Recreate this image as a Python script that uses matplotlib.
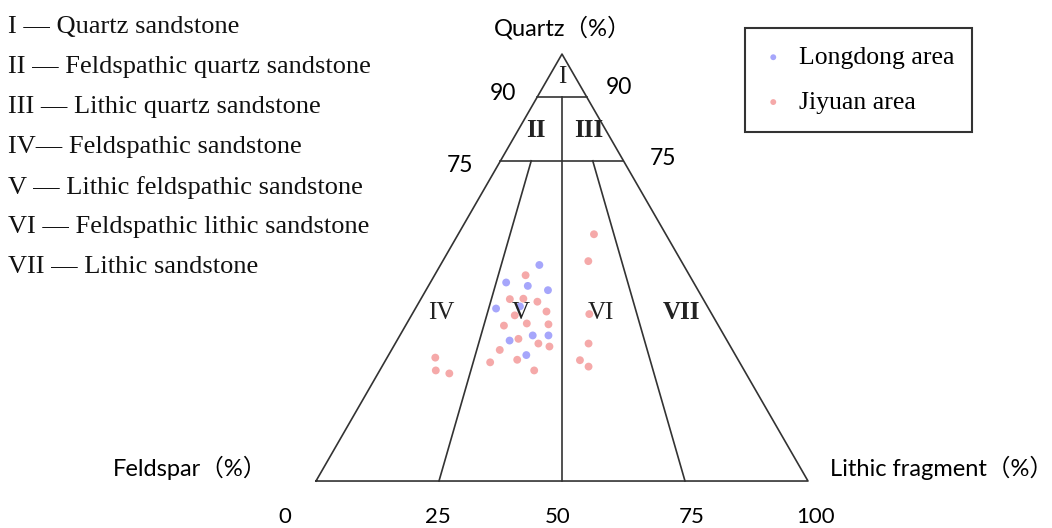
import numpy as np
import matplotlib
matplotlib.use("Agg")
import matplotlib.pyplot as plt

# QFL classification (Quartz / Feldspar / Lithic fragment), values in %
# Longdong area samples
long_q = [50.6, 46.5, 45.7, 44.7, 40.4, 40.9, 34.1, 34.1, 32.9, 29.5]
long_l = [20.1, 15.4, 20.2, 24.8, 16.4, 21.0, 27.0, 30.2, 22.9, 28.0]
# Jiyuan area samples
jiy_q = [57.8, 51.5, 39.1, 32.2, 28.3, 26.8, 48.2, 42.6, 42.7, 42.0, 39.7, 38.8, 36.9,
         36.7, 36.4, 33.3, 32.2, 31.5, 30.7, 27.8, 28.4, 25.9, 28.9, 25.9, 25.2]
jiy_l = [27.6, 29.6, 36.0, 39.3, 39.5, 42.0, 18.5, 18.1, 20.8, 24.0, 27.0, 21.0, 24.4,
         28.9, 20.0, 24.5, 29.1, 31.7, 22.0, 21.5, 26.7, 31.4, 9.8, 11.4, 14.5]

classes = ["I — Quartz sandstone",
           "II — Feldspathic quartz sandstone",
           "III — Lithic quartz sandstone",
           "IV— Feldspathic sandstone",
           "V — Lithic feldspathic sandstone",
           "VI — Feldspathic lithic sandstone",
           "VII — Lithic sandstone"]
base_ticks = ["0", "25", "50", "75", "100"]

S = np.sqrt(3) / 2


def tern(q, l):
    q = np.asarray(q, dtype=float)
    l = np.asarray(l, dtype=float)
    return l + q / 2, q * S


def ray(r, q0, q1):
    # line of constant L/(F+L) ratio r between quartz q0 and q1
    q = np.array([q0, q1], dtype=float)
    return r * (100 - q) + q / 2, q * S


fig = plt.figure(figsize=(10.52, 5.28), dpi=100)
ax = fig.add_axes([0, 0, 1, 1])
ax.set_xlim(-64.23, 149.6)
ax.set_ylim(-9.53, 97.57)
ax.axis("off")

lc = "#333333"
lw = 1.2
# outer triangle
tx, ty = tern([0, 0, 100, 0], [0, 100, 0, 0])
ax.plot(tx, ty, color=lc, lw=lw)
# horizontal quartz lines at 90 and 75
for q in [90, 75]:
    hx, hy = tern([q, q], [0, 100 - q])
    ax.plot(hx, hy, color=lc, lw=lw)
# divisions
for r, qtop in [(0.5, 90), (0.25, 75), (0.75, 75)]:
    rx, ry = ray(r, 0, qtop)
    ax.plot(rx, ry, color=lc, lw=lw)

# data points
lx, ly = tern(long_q, long_l)
jx, jy = tern(jiy_q, jiy_l)
ax.scatter(jx, jy, s=32, color="#f5a9a9", edgecolors="none", label="Jiyuan area", zorder=3)
ax.scatter(lx, ly, s=32, color="#a6a6fb", edgecolors="none", label="Longdong area", zorder=3)

# region labels
serif = "Liberation Serif"
reg = [("I", 50, 82.0, "normal"), ("II", 44.7, 71.2, "bold"), ("III", 55.5, 71.2, "bold"),
       ("IV", 25.4, 34.1, "normal"), ("V", 41.7, 34.1, "normal"), ("VI", 57.9, 34.1, "normal"),
       ("VII", 74.2, 34.1, "bold")]
for t, x, y, w in reg:
    ax.text(x, y, t, family=serif, fontsize=18, fontweight=w, ha="center", va="center",
            color="#222222")

# classification list on the left
for i, t in enumerate(classes):
    ax.text(-62.6, 92.0 - i * 8.11, t, family=serif, fontsize=19, ha="left", va="center",
            color="#111111")

# axis labels and ticks
sans = ["Lato", "Noto Sans CJK SC"]
ax.text(50.2, 91.9, "Quartz（%）", family=sans, fontsize=17, ha="center", va="center")
ax.text(-25.6, 2.6, "Feldspar（%）", family=sans, fontsize=17, ha="center", va="center")
ax.text(127.2, 2.6, "Lithic fragment（%）", family=sans, fontsize=17, ha="center", va="center")
for t, x, y in [("90", 38.0, 78.7), ("90", 61.6, 79.9), ("75", 29.3, 64.1), ("75", 70.5, 65.5)]:
    ax.text(x, y, t, family=sans, fontsize=16.5, ha="center", va="center")
for t, x in zip(base_ticks, [-6.3, 24.8, 49.2, 76.4, 101.6]):
    ax.text(x, -7.3, t, family=sans, fontsize=16, ha="center", va="center")

h, l = ax.get_legend_handles_labels()
leg = ax.legend(h[::-1], l[::-1], loc="upper left", bbox_to_anchor=(745 / 1052, 1 - 28 / 528),
                prop={"family": serif, "size": 18.5}, frameon=True, fancybox=False,
                edgecolor="#333333", framealpha=1, borderpad=0.7, labelspacing=0.85,
                handletextpad=0.6, handlelength=0.8, borderaxespad=0, markerscale=0.75)
leg.get_frame().set_linewidth(1.5)

fig.savefig("out.png", dpi=100)
